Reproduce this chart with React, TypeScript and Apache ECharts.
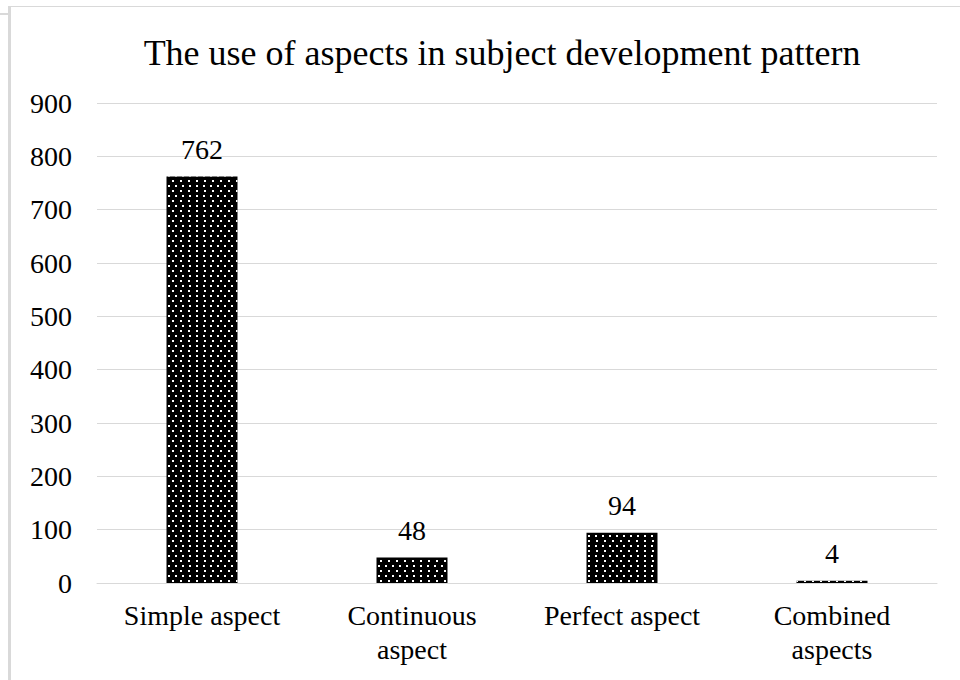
import React, { useEffect, useRef } from "react";
import * as echarts from "echarts";

const title = "The use of aspects in subject development pattern";
const categories = ["Simple aspect", "Continuous\naspect", "Perfect aspect", "Combined\naspects"];
const values = [762, 48, 94, 4];
const yMin = 0;
const yMax = 900;
const yInterval = 100;

const FONT = "'Liberation Serif', 'Times New Roman', serif";

export default function App() {
  const ref = useRef<HTMLDivElement>(null);
  useEffect(() => {
    if (!ref.current) return;
    const chart = echarts.init(ref.current, null, { renderer: "svg" });
    chart.setOption({
      animation: false,
      backgroundColor: "#ffffff",
      title: {
        text: title,
        left: 497,
        textAlign: "center",
        top: 30,
        textStyle: { fontFamily: FONT, fontSize: 36, fontWeight: "normal", color: "#000" },
      },
      grid: { left: 97, right: 23, top: 103, bottom: 97 },
      xAxis: {
        type: "category",
        data: categories,
        axisLine: { lineStyle: { color: "#d9d9d9", width: 1 } },
        axisTick: { show: false },
        axisLabel: {
          fontFamily: FONT,
          fontSize: 28,
          color: "#000",
          margin: 15,
          lineHeight: 34,
          interval: 0,
        },
      },
      yAxis: {
        type: "value",
        min: yMin,
        max: yMax,
        interval: yInterval,
        axisLine: { show: false },
        axisTick: { show: false },
        splitLine: { lineStyle: { color: "#d9d9d9", width: 1 } },
        axisLabel: { fontFamily: FONT, fontSize: 28, color: "#000", margin: 25 },
      },
      series: [
        {
          type: "bar",
          data: values,
          barWidth: 71,
          itemStyle: {
            color: "#000",
            decal: {
              symbol: "rect",
              symbolSize: 1,
              color: "#ffffff",
              dashArrayX: [
                [2, 4.5],
                [0, 3.25, 2, 1.25],
              ],
              dashArrayY: [2, 2.3],
              rotation: 0,
            },
          },
          label: {
            show: true,
            position: "top",
            distance: 13,
            fontFamily: FONT,
            fontSize: 28,
            color: "#000",
          },
        },
      ],
      graphic: [
        { type: "rect", shape: { x: 8, y: 6, width: 3, height: 680 }, style: { fill: "#d9d9d9" }, silent: true },
        { type: "rect", shape: { x: 10, y: 6, width: 960, height: 1 }, style: { fill: "#d9d9d9" }, silent: true },
        { type: "rect", shape: { x: 0, y: 13, width: 8, height: 2 }, style: { fill: "#d9d9d9" }, silent: true },
      ],
    });
    return () => chart.dispose();
  }, []);
  return (
    <div
      ref={ref}
      style={{ position: "fixed", left: 0, top: 0, width: 960, height: 680 }}
    />
  );
}
